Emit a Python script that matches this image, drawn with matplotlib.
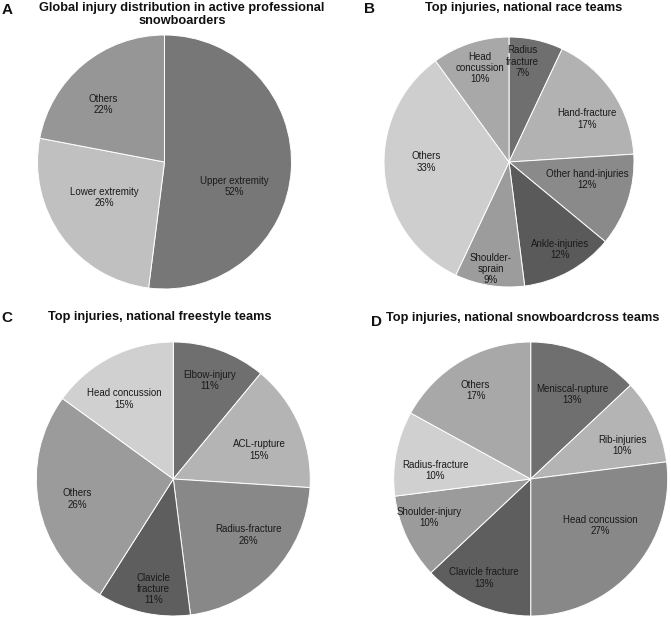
import matplotlib
matplotlib.use("Agg")
import matplotlib.pyplot as plt
import numpy as np

plt.rcParams['font.family'] = ['Liberation Sans', 'DejaVu Sans']

# Panel A
a_labels = ["Upper extremity", "Lower extremity", "Others"]
a_values = [52, 26, 22]
a_pct = ["52%", "26%", "22%"]
a_colors = ["#777777", "#c0c0c0", "#969696"]

# Panel B
b_labels = ["Radius\nfracture", "Hand-fracture", "Other hand-injuries", "Ankle-injuries",
            "Shoulder-\nsprain", "Others", "Head\nconcussion"]
b_values = [7, 17, 12, 12, 9, 33, 10]
b_pct = ["7%", "17%", "12%", "12%", "9%", "33%", "10%"]
b_colors = ["#6f6f6f", "#b2b2b2", "#8a8a8a", "#5a5a5a", "#9c9c9c", "#cecece", "#a8a8a8"]

# Panel C (wedge sizes as drawn; printed labels as shown)
c_labels = ["Elbow-injury", "ACL-rupture", "Radius-fracture", "Clavicle\nfracture",
            "Others", "Head concussion"]
c_values = [11, 15, 22, 11, 26, 15]
c_pct = ["11%", "15%", "26%", "11%", "26%", "15%"]
c_colors = ["#6f6f6f", "#b4b4b4", "#888888", "#5e5e5e", "#9b9b9b", "#d0d0d0"]

# Panel D
d_labels = ["Meniscal-rupture", "Rib-injuries", "Head concussion", "Clavicle fracture",
            "Shoulder-injury", "Radius-fracture", "Others"]
d_values = [13, 10, 27, 13, 10, 10, 17]
d_pct = ["13%", "10%", "27%", "13%", "10%", "10%", "17%"]
d_colors = ["#6f6f6f", "#b4b4b4", "#888888", "#5e5e5e", "#9b9b9b", "#d0d0d0", "#a8a8a8"]

# label placement styles: (radial distance, angular offset in degrees)
a_lab_pos = [(0.58, -15.8), (0.55, -5.6), (0.66, 7.3)]
b_lab_pos = [(0.81, 4.8), (0.715, -5.4), (0.64, 5.5), (0.81, 1.8), (0.87, -0.7), (0.664, -5.4), (0.785, -0.8)]
c_lab_pos = [(0.766, -0.5), (0.662, -4.7), (0.686, 6.6), (0.817, 2.5), (0.714, 1.0), (0.685, 4.5)]
d_lab_pos = [(0.69, -2.7), (0.712, -5.0), (0.614, 7.7), (0.80, -2.0), (0.79, -4.5), (0.70, 5.8), (0.76, 1.3)]

W, H = 671, 620
fig = plt.figure(figsize=(W / 100, H / 100), dpi=100)

panels = [
    (a_labels, a_values, a_pct, a_colors, a_lab_pos, (164.5, 162, 127),
     "Global injury distribution in active professional\nsnowboarders", (182, 14.5), "A", (7.5, 10)),
    (b_labels, b_values, b_pct, b_colors, b_lab_pos, (509, 162, 125),
     "Top injuries, national race teams", (524, 8), "B", (370, 9)),
    (c_labels, c_values, c_pct, c_colors, c_lab_pos, (173.3, 479, 137),
     "Top injuries, national freestyle teams", (160, 317), "C", (7, 318)),
    (d_labels, d_values, d_pct, d_colors, d_lab_pos, (530.7, 479, 137),
     "Top injuries, national snowboardcross teams", (522.5, 318), "D", (376, 322)),
]

for labels, values, pcts, colors, lab_pos, (cx, cy, r), title, (tx, ty), letter, (lx, ly) in panels:
    ax = fig.add_axes([(cx - r) / W, (H - cy - r) / H, 2 * r / W, 2 * r / H])
    texts = [f"{l}\n{p}" for l, p in zip(labels, pcts)]
    wedges, txts = ax.pie(values, colors=colors, startangle=90, counterclock=False,
                          labels=texts, labeldistance=0.6,
                          wedgeprops=dict(edgecolor="white", linewidth=0.7),
                          textprops=dict(fontsize=7, color="#1a1a1a", ha="center", va="center",
                                         multialignment="center", linespacing=1.15))
    for w, t, (dist, off) in zip(wedges, txts, lab_pos):
        mid = np.deg2rad((w.theta1 + w.theta2) / 2 + off)
        t.set_position((dist * np.cos(mid), dist * np.sin(mid)))
        t.set_horizontalalignment("center")
        t.set_verticalalignment("center")
    ax.set_xlim(-1.0, 1.0)
    ax.set_ylim(-1.0, 1.0)
    ax.set_aspect("equal")
    ax.axis("off")
    fig.text(tx / W, 1 - ty / H, title, ha="center", va="center", fontsize=9.2,
             fontweight="bold", color="#111111", linespacing=1.0)
    fig.text(lx / W, 1 - ly / H, letter, ha="center", va="center", fontsize=11,
             fontweight="bold", color="#111111")

fig.savefig("out.png", dpi=100)
